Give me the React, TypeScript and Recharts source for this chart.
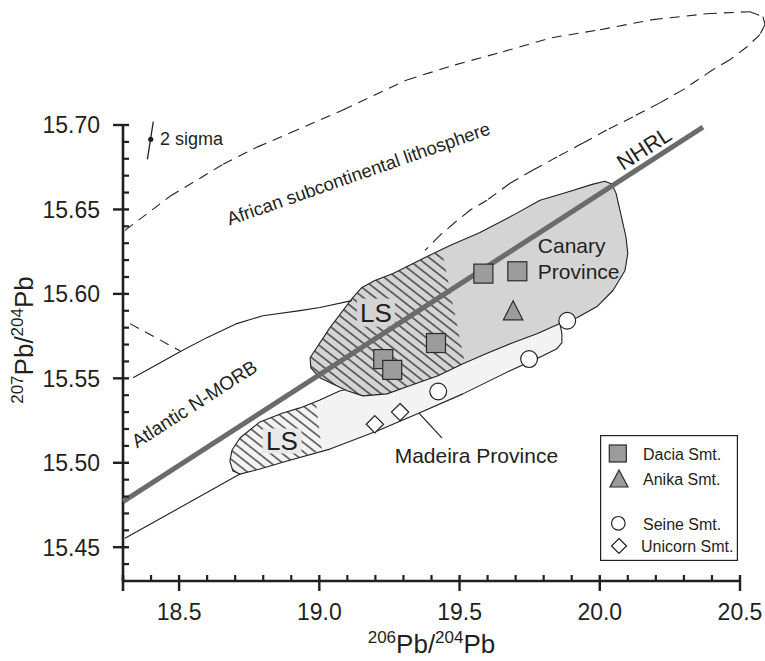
import React from 'react';
import { ComposedChart, Scatter, XAxis, YAxis, ReferenceLine, ReferenceDot, Legend } from 'recharts';

const FONT = '"Liberation Sans", Arial, Helvetica, sans-serif';
const INK = '#231f20';

// ---------- axes ----------
const X_DOMAIN = [18.3, 20.5];
const Y_DOMAIN = [15.43, 15.7];
const xMajorTicks = [18.5, 19.0, 19.5, 20.0, 20.5];
const xMinorTicks = [18.4, 18.6, 18.7, 18.8, 18.9, 19.1, 19.2, 19.3, 19.4, 19.6, 19.7, 19.8, 19.9, 20.1, 20.2, 20.3, 20.4];
const xEdgeTicks = [18.3];
const yMajorTicks = [15.45, 15.5, 15.55, 15.6, 15.65, 15.7];
const yMinorTicks = [15.44, 15.46, 15.47, 15.48, 15.49, 15.51, 15.52, 15.53, 15.54, 15.56, 15.57, 15.58, 15.59, 15.61, 15.62, 15.63, 15.64, 15.66, 15.67, 15.68, 15.69];

// ---------- samples ----------
const daciaX = [19.585, 19.706, 19.416, 19.228, 19.26];
const daciaY = [15.612, 15.6134, 15.5709, 15.5614, 15.555];
const anikaX = [19.691];
const anikaY = [15.59];
const seineX = [19.884, 19.748, 19.424];
const seineY = [15.5841, 15.5614, 15.5422];
const unicornX = [19.198, 19.288];
const unicornY = [15.5228, 15.53];

// ---------- fields ----------
const canaryX = [19.12, 19.152, 19.198, 19.263, 19.37, 19.466, 19.573, 19.69, 19.787, 19.883, 19.976, 20.018, 20.043, 20.058, 20.072, 20.093, 20.1, 20.09, 20.047, 19.99, 19.919, 19.858, 19.776, 19.69, 19.594, 19.512, 19.423, 19.312, 19.241, 19.156, 19.099, 19.002, 18.97, 18.967, 19.038];
const canaryY = [15.598, 15.6038, 15.6079, 15.6121, 15.621, 15.6287, 15.6364, 15.6465, 15.6555, 15.6602, 15.665, 15.6667, 15.665, 15.6596, 15.6495, 15.6341, 15.624, 15.6139, 15.602, 15.5925, 15.5859, 15.5824, 15.5764, 15.5711, 15.5646, 15.5586, 15.5515, 15.545, 15.5408, 15.5396, 15.5426, 15.5503, 15.5562, 15.5622, 15.58];

const lsUpperX = [19.12, 19.152, 19.198, 19.263, 19.37, 19.437, 19.519, 19.423, 19.312, 19.241, 19.156, 19.099, 19.002, 18.97, 18.967, 19.038];
const lsUpperY = [15.598, 15.6038, 15.6079, 15.6121, 15.621, 15.6257, 15.5592, 15.5515, 15.545, 15.5408, 15.5396, 15.5426, 15.5503, 15.5562, 15.5622, 15.58];

const madeiraX = [18.681, 18.689, 18.717, 18.788, 18.87, 18.931, 19.002, 19.074, 19.288, 19.501, 19.715, 19.84, 19.858, 19.865, 19.865, 19.847, 19.797, 19.68, 19.512, 19.348, 19.206, 19.038, 18.885, 18.788, 18.717, 18.692];
const madeiraY = [15.501, 15.5076, 15.5147, 15.5242, 15.5295, 15.5325, 15.5372, 15.5426, 15.5497, 15.5616, 15.5758, 15.5842, 15.5824, 15.5764, 15.5711, 15.5675, 15.5634, 15.5545, 15.5408, 15.5289, 15.5188, 15.5081, 15.501, 15.4963, 15.4933, 15.4951];

const lsLowerX = [18.681, 18.689, 18.717, 18.788, 18.87, 18.931, 18.988, 19.009, 18.885, 18.788, 18.717, 18.692];
const lsLowerY = [15.501, 15.5076, 15.5147, 15.5242, 15.5295, 15.5325, 15.536, 15.5076, 15.501, 15.4963, 15.4933, 15.4951];

const morbUpperX = [18.336, 18.407, 18.503, 18.599, 18.706, 18.799, 18.931, 19.002, 19.116];
const morbUpperY = [15.5503, 15.5568, 15.5658, 15.5741, 15.5824, 15.5871, 15.5901, 15.5919, 15.596];
const morbLowerX = [18.307, 18.717];
const morbLowerY = [15.4553, 15.4933];
const morbDashX = [18.325, 18.503];
const morbDashY = [15.5824, 15.5663];

const nhrlX = [18.3, 20.368];
const nhrlY = [15.477, 15.6988];

const africaX = [18.307, 18.468, 18.657, 18.778, 18.895, 19.084, 19.312, 19.484, 19.655, 19.829, 20.001, 20.189, 20.382, 20.535, 20.582, 20.589, 20.571, 20.525, 20.464, 20.403, 20.296, 20.214, 20.118, 20.025, 19.94, 19.847, 19.762, 19.68, 19.598, 19.537, 19.484, 19.43, 19.377];
const africaY = [15.6376, 15.6578, 15.6768, 15.6869, 15.6952, 15.7089, 15.7267, 15.7356, 15.7434, 15.7517, 15.7564, 15.7624, 15.7659, 15.7671, 15.7642, 15.7594, 15.7535, 15.7463, 15.7386, 15.7327, 15.7208, 15.7131, 15.7048, 15.697, 15.6893, 15.681, 15.6733, 15.6655, 15.6555, 15.6495, 15.6424, 15.6347, 15.6257];

const madeiraLeaderX = [19.348, 19.437];
const madeiraLeaderY = [15.5307, 15.5147];

const sigmaBarX = [18.408, 18.387];
const sigmaBarY = [15.702, 15.6796];
const sigmaDot = { x: 18.399, y: 15.6915 };

// ---------- text labels (anchor positions in data units) ----------
const labelNHRL = { x: 20.157, y: 15.6863, text: 'NHRL' };
const labelAfrica = { x: 19.147, y: 15.6676, text: 'African subcontinental lithosphere' };
const labelMorb = { x: 18.567, y: 15.5316, text: 'Atlantic N-MORB' };
const labelCanary = { x: 19.779, y: 15.6242, text: 'Canary' };
const labelCanary2 = { x: 19.779, y: 15.6089, text: 'Province' };
const labelMadeira = { x: 19.56, y: 15.5, text: 'Madeira Province' };
const labelLSUpper = { x: 19.202, y: 15.5889, text: 'LS' };
const labelLSLower = { x: 18.867, y: 15.5129, text: 'LS' };
const labelSigma = { x: 18.432, y: 15.6884, text: '2 sigma' };

const legendItems = ['Dacia Smt.', 'Anika Smt.', 'Seine Smt.', 'Unicorn Smt.'];

// ---------- helpers ----------
const zip = (xs: number[], ys: number[]) => xs.map((x, i) => ({ x, y: ys[i] }));
const isIn = (v: number, arr: number[]) => arr.some((a) => Math.abs(a - v) < 1e-6);

const xTicks = [...xEdgeTicks, ...xMinorTicks, ...xMajorTicks].sort((a, b) => a - b);
const yTicks = [...yMinorTicks, ...yMajorTicks].sort((a, b) => a - b);

const EmptyShape = () => <g />;

const polyShape = (fill: string, stroke: string, sw: number, closed: boolean, dash?: string) => (p: any) => {
  const pts = p.points || [];
  if (!pts.length) return <g />;
  const d = pts.map((pt: any, i: number) => `${i ? 'L' : 'M'}${pt.x},${pt.y}`).join('') + (closed ? 'Z' : '');
  return <path d={d} fill={fill} stroke={stroke} strokeWidth={sw} strokeDasharray={dash} strokeLinejoin="round" />;
};

const SquareMarker = (p: any) => (
  <rect x={p.cx - 9.5} y={p.cy - 9.5} width={19} height={19} fill="#9c9c9c" stroke="#2a2a2a" strokeWidth={1.2} />
);
const TriangleMarker = (p: any) => (
  <polygon points={`${p.cx},${p.cy - 10} ${p.cx + 9.7},${p.cy + 9} ${p.cx - 9.7},${p.cy + 9}`} fill="#9c9c9c" stroke="#2a2a2a" strokeWidth={1.2} />
);
const CircleMarker = (p: any) => <circle cx={p.cx} cy={p.cy} r={8.4} fill="#fff" stroke={INK} strokeWidth={1.2} />;
const DiamondMarker = (p: any) => (
  <polygon points={`${p.cx},${p.cy - 8.6} ${p.cx + 8.6},${p.cy} ${p.cx},${p.cy + 8.6} ${p.cx - 8.6},${p.cy}`} fill="#fff" stroke={INK} strokeWidth={1.2} />
);

const textShape = (text: string, size: number, anchor: string, angle = 0, dy = 0) => (p: any) => (
  <text
    x={p.cx}
    y={p.cy}
    dy={dy}
    textAnchor={anchor}
    fontFamily={FONT}
    fontSize={size}
    fill={INK}
    transform={angle ? `rotate(${angle} ${p.cx} ${p.cy})` : undefined}
  >
    {text}
  </text>
);

const boxedLabel = (text: string, boxFill: string, w: number, h: number) => (p: any) => (
  <g>
    <rect x={p.cx - w / 2} y={p.cy - h / 2} width={w} height={h} fill={boxFill} />
    <text x={p.cx} y={p.cy + 9.3} textAnchor="middle" fontFamily={FONT} fontSize={26} fill={INK}>
      {text}
    </text>
  </g>
);

const XTick = (p: any) => {
  const { x, y, payload } = p;
  const v = payload.value;
  if (isIn(v, xMajorTicks)) {
    return (
      <g>
        <line x1={x} y1={y - 6} x2={x} y2={y + 10} stroke={INK} strokeWidth={2.4} />
        <text x={x} y={y + 39} textAnchor="middle" fontFamily={FONT} fontSize={23} fill={INK}>
          {v.toFixed(1)}
        </text>
      </g>
    );
  }
  if (isIn(v, xEdgeTicks)) return <line x1={x} y1={y - 6} x2={x} y2={y + 10} stroke={INK} strokeWidth={2.6} />;
  return <line x1={x} y1={y - 6} x2={x} y2={y} stroke={INK} strokeWidth={2.2} />;
};

const YTick = (p: any) => {
  const { x, y, payload } = p;
  const v = payload.value;
  if (isIn(v, yMajorTicks)) {
    return (
      <g>
        <line x1={x - 10} y1={y} x2={x + 6} y2={y} stroke={INK} strokeWidth={2.4} />
        <text x={x - 23} y={y} dy="0.36em" textAnchor="end" fontFamily={FONT} fontSize={23} fill={INK}>
          {v.toFixed(2)}
        </text>
      </g>
    );
  }
  return <line x1={x} y1={y} x2={x + 6} y2={y} stroke={INK} strokeWidth={2.2} />;
};

const XTitle = (props: any) => {
  const vb = props.viewBox || { x: 123, y: 581, width: 617, height: 80 };
  const cx = vb.x + vb.width / 2;
  const by = vb.y + 72;
  return (
    <text x={cx} y={by} textAnchor="middle" fontFamily={FONT} fontSize={26} fill={INK}>
      <tspan fontSize={17} dy={-10}>206</tspan>
      <tspan dy={10}>Pb/</tspan>
      <tspan fontSize={17} dy={-10}>204</tspan>
      <tspan dy={10}>Pb</tspan>
    </text>
  );
};

const YTitle = (props: any) => {
  const vb = props.viewBox || { x: 0, y: 125, width: 123, height: 456 };
  const cx = vb.x + 33;
  const cy = vb.y + vb.height / 2 - 13;
  return (
    <text x={cx} y={cy} transform={`rotate(-90 ${cx} ${cy})`} textAnchor="middle" fontFamily={FONT} fontSize={26} fill={INK}>
      <tspan fontSize={17} dy={-10}>207</tspan>
      <tspan dy={10}>Pb/</tspan>
      <tspan fontSize={17} dy={-10}>204</tspan>
      <tspan dy={10}>Pb</tspan>
    </text>
  );
};

const LegendBox = () => (
  <svg width={138} height={126} style={{ display: 'block' }}>
    <rect x={0.6} y={0.6} width={136.8} height={124.8} fill="#fff" stroke={INK} strokeWidth={1.2} />
    <rect x={9.3} y={10} width={17} height={17} fill="#9c9c9c" stroke="#2a2a2a" strokeWidth={1.2} />
    <polygon points="19,35 28,52 10,52" fill="#9c9c9c" stroke="#2a2a2a" strokeWidth={1.2} />
    <circle cx={18.3} cy={88.3} r={6.8} fill="#fff" stroke={INK} strokeWidth={1.2} />
    <polygon points="19,103.5 26.5,111 19,118.5 11.5,111" fill="#fff" stroke={INK} strokeWidth={1.2} />
    <g fontFamily={FONT} fontSize={16} fill={INK}>
      <text x={43} y={24.5}>{legendItems[0]}</text>
      <text x={43} y={50}>{legendItems[1]}</text>
      <text x={43} y={94.5}>{legendItems[2]}</text>
      <text x={41} y={116.7}>{legendItems[3]}</text>
    </g>
  </svg>
);

export default function App() {
  const ellipseSegments = africaX.slice(0, -1).map((x, i) => [
    { x, y: africaY[i] },
    { x: africaX[i + 1], y: africaY[i + 1] },
  ]);
  return (
    <div style={{ position: 'absolute', left: 0, top: 0, width: 765, height: 661, background: '#fff' }}>
      <svg width={0} height={0} style={{ position: 'absolute' }}>
        <defs>
          <pattern id="lsHatch" patternUnits="userSpaceOnUse" width={12} height={7.2} patternTransform="rotate(38)">
            <line x1={0} y1={3.6} x2={12} y2={3.6} stroke={INK} strokeWidth={1.2} />
          </pattern>
        </defs>
      </svg>
      <ComposedChart width={765} height={661} margin={{ top: 125, right: 25, bottom: 0, left: 0 }}>
        <XAxis
          type="number"
          dataKey="x"
          domain={X_DOMAIN}
          ticks={xTicks}
          interval={0}
          tickSize={0}
          tickMargin={0}
          tickLine={false}
          axisLine={{ stroke: INK, strokeWidth: 2.6 }}
          tick={XTick}
          height={80}
          label={<XTitle />}
        />
        <YAxis
          type="number"
          dataKey="y"
          domain={Y_DOMAIN}
          ticks={yTicks}
          interval={0}
          tickSize={0}
          tickMargin={0}
          tickLine={false}
          axisLine={{ stroke: INK, strokeWidth: 2.6 }}
          tick={YTick}
          width={123}
          label={<YTitle />}
        />

        {ellipseSegments.map((seg, i) => (
          <ReferenceLine key={`ell-${i}`} segment={seg} stroke={INK} strokeWidth={1.1} strokeDasharray="10 7" ifOverflow="visible" />
        ))}
        <ReferenceLine
          segment={zip(sigmaBarX, sigmaBarY)}
          stroke={INK}
          strokeWidth={1.3}
          ifOverflow="visible"
        />
        <ReferenceDot x={sigmaDot.x} y={sigmaDot.y} r={2.6} fill={INK} stroke="none" ifOverflow="visible" />
        <ReferenceLine segment={zip(madeiraLeaderX, madeiraLeaderY)} stroke={INK} strokeWidth={1.2} ifOverflow="visible" />

        <Scatter data={zip(madeiraX, madeiraY)} shape={EmptyShape} line={polyShape('#f3f3f3', INK, 1.1, true)} isAnimationActive={false} legendType="none" />
        <Scatter data={zip(lsLowerX, lsLowerY)} shape={EmptyShape} line={polyShape('url(#lsHatch)', 'none', 0, true)} isAnimationActive={false} legendType="none" />
        <Scatter data={zip(canaryX, canaryY)} shape={EmptyShape} line={polyShape('#d4d4d4', INK, 1.1, true)} isAnimationActive={false} legendType="none" />
        <Scatter data={zip(lsUpperX, lsUpperY)} shape={EmptyShape} line={polyShape('url(#lsHatch)', 'none', 0, true)} isAnimationActive={false} legendType="none" />
        <Scatter data={zip(morbUpperX, morbUpperY)} shape={EmptyShape} line={polyShape('none', INK, 1.1, false)} isAnimationActive={false} legendType="none" />
        <Scatter data={zip(morbLowerX, morbLowerY)} shape={EmptyShape} line={polyShape('none', INK, 1.1, false)} isAnimationActive={false} legendType="none" />
        <Scatter data={zip(morbDashX, morbDashY)} shape={EmptyShape} line={polyShape('none', INK, 1.1, false, '10 7')} isAnimationActive={false} legendType="none" />

        <Scatter data={[labelLSUpper]} shape={boxedLabel(labelLSUpper.text, '#d4d4d4', 38, 28)} isAnimationActive={false} legendType="none" />
        <Scatter data={[labelLSLower]} shape={boxedLabel(labelLSLower.text, '#e9e9e9', 39, 25)} isAnimationActive={false} legendType="none" />

        <Scatter data={zip(nhrlX, nhrlY)} shape={EmptyShape} line={polyShape('none', '#6b6b6b', 5, false)} isAnimationActive={false} legendType="none" />

        <Scatter name="Dacia Smt." data={zip(daciaX, daciaY)} shape={SquareMarker} isAnimationActive={false} legendType="none" />
        <Scatter name="Anika Smt." data={zip(anikaX, anikaY)} shape={TriangleMarker} isAnimationActive={false} legendType="none" />
        <Scatter name="Seine Smt." data={zip(seineX, seineY)} shape={CircleMarker} isAnimationActive={false} legendType="none" />
        <Scatter name="Unicorn Smt." data={zip(unicornX, unicornY)} shape={DiamondMarker} isAnimationActive={false} legendType="none" />

        <Scatter data={[labelNHRL]} shape={textShape(labelNHRL.text, 22, 'middle', -32.7, 8)} isAnimationActive={false} legendType="none" />
        <Scatter data={[labelAfrica]} shape={textShape(labelAfrica.text, 18.5, 'middle', -19.3)} isAnimationActive={false} legendType="none" />
        <Scatter data={[labelMorb]} shape={textShape(labelMorb.text, 19, 'middle', -32.7)} isAnimationActive={false} legendType="none" />
        <Scatter data={[labelCanary]} shape={textShape(labelCanary.text, 21, 'start')} isAnimationActive={false} legendType="none" />
        <Scatter data={[labelCanary2]} shape={textShape(labelCanary2.text, 21, 'start')} isAnimationActive={false} legendType="none" />
        <Scatter data={[labelMadeira]} shape={textShape(labelMadeira.text, 21, 'middle')} isAnimationActive={false} legendType="none" />
        <Scatter data={[labelSigma]} shape={textShape(labelSigma.text, 18, 'start')} isAnimationActive={false} legendType="none" />

        <Legend
          layout="vertical"
          align="center"
          verticalAlign="middle"
          wrapperStyle={{ left: 600, top: 435, width: 138, height: 126, margin: 0, padding: 0 }}
          content={<LegendBox />}
        />
      </ComposedChart>
    </div>
  );
}
